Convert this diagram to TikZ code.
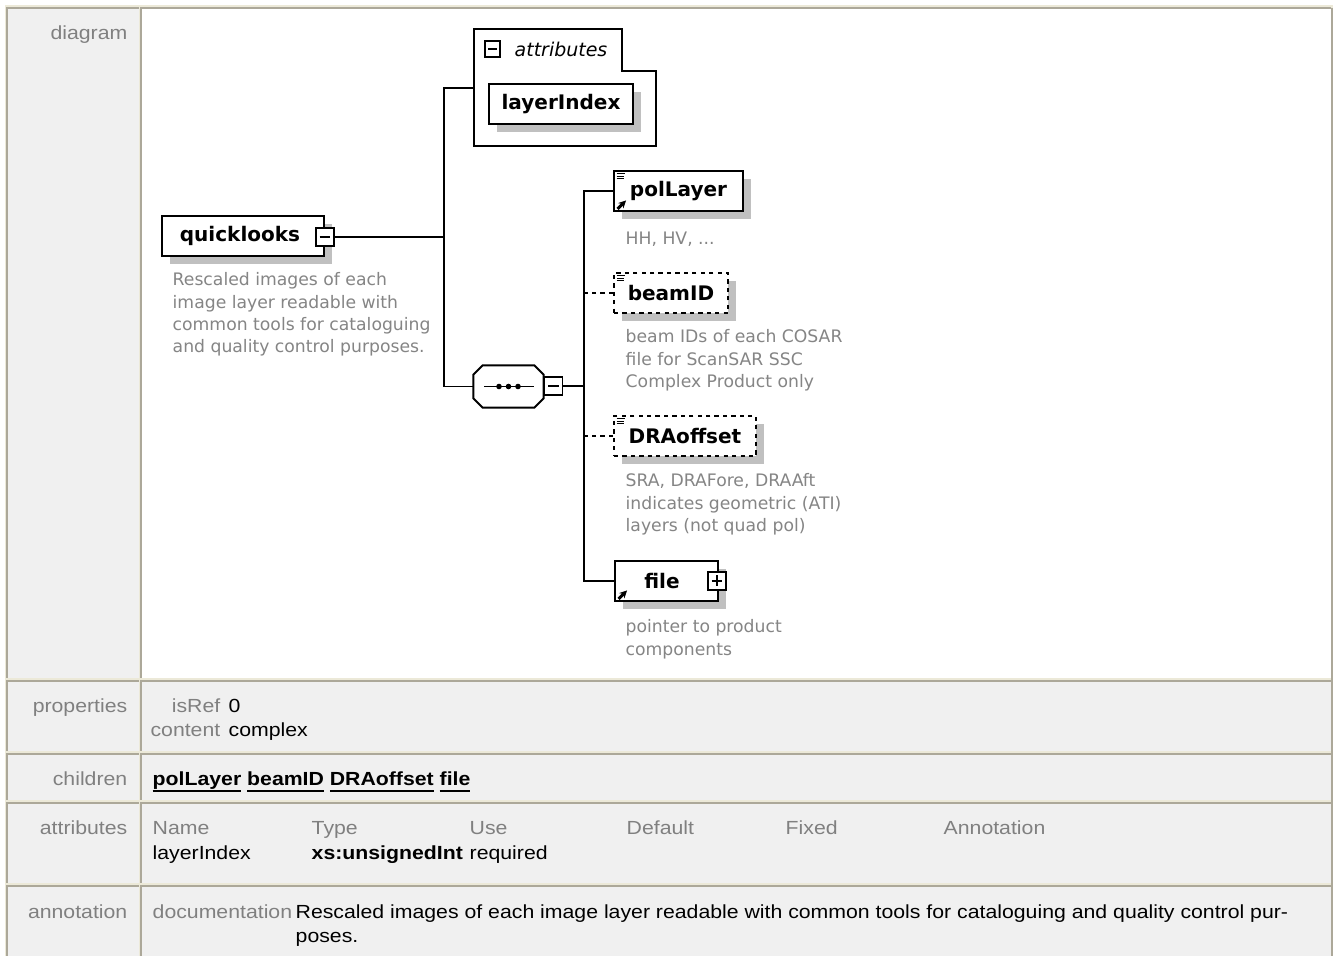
\documentclass[tikz,border=0pt]{standalone}
\usepackage{fontspec}
\setmainfont{Liberation Sans}[FakeStretch=1.12]
\newfontfamily\xsdfont{DejaVu Sans}
\usepackage{xcolor}
\usetikzlibrary{arrows.meta,positioning,shadows}
\definecolor{tandark}{HTML}{ACA899}
\definecolor{tanlight}{HTML}{ECE9D8}
\definecolor{cellgray}{HTML}{F0F0F0}
\definecolor{labelgray}{HTML}{808080}
\definecolor{descgray}{HTML}{858585}
\definecolor{shadowc}{HTML}{C0C0C0}
% one table cell: x1 y1 x2 y2 fill
\newcommand{\tcell}[5]{%
  \fill[#5] (#1,#2) rectangle (#3,#4);
  \draw[tandark,line width=0.55pt] (#1,#4) -- (#1,#2) -- (#3,#2);}
% octagon outline round a node: node name
\newcommand{\octpath}[1]{%
  ([xshift=0.095cm]#1.north west) -- ([xshift=-0.095cm]#1.north east)
  -- ([yshift=-0.095cm]#1.north east) -- ([yshift=0.095cm]#1.south east)
  -- ([xshift=-0.095cm]#1.south east) -- ([xshift=0.095cm]#1.south west)
  -- ([yshift=0.095cm]#1.south west) -- ([yshift=-0.095cm]#1.north west) -- cycle}
\newcommand{\childlink}[1]{\textbf{\underline{\smash{#1}}}}

\begin{document}
\begin{tikzpicture}[
  tabtxt/.style={font=\fontsize{5.4}{6.8}\selectfont,inner sep=0pt},
  lbl/.style={tabtxt,text=labelgray,anchor=base east},
  val/.style={tabtxt,anchor=base west},
  elem/.style={draw,line width=0.55pt,fill=white,minimum height=0.40cm,inner sep=0pt,
               font=\xsdfont\bfseries\fontsize{5.7}{6.8}\selectfont,
               general shadow={fill=shadowc,shadow xshift=0.08cm,shadow yshift=-0.08cm}},
  optelem/.style={elem,dash pattern=on 1.2pt off 1.2pt},
  desc/.style={font=\xsdfont\fontsize{4.9}{6.35}\selectfont,text=descgray,
               align=left,anchor=north west,inner sep=0pt},
  minusbox/.style={draw,line width=0.5pt,fill=white,minimum size=0.18cm,inner sep=0pt,
               path picture={\draw[line width=0.5pt]
                 ([xshift=0.035cm]path picture bounding box.west) --
                 ([xshift=-0.035cm]path picture bounding box.east);}},
  plusbox/.style={draw,line width=0.5pt,fill=white,minimum size=0.18cm,inner sep=0pt,
               path picture={\draw[line width=0.5pt]
                 ([xshift=0.035cm]path picture bounding box.west) --
                 ([xshift=-0.035cm]path picture bounding box.east)
                 ([yshift=-0.035cm]path picture bounding box.north) --
                 ([yshift=0.035cm]path picture bounding box.south);}},
  conn/.style={line width=0.55pt},
]
\useasboundingbox (0,0) rectangle (13.38,-9.56);

% table frame
\fill[tanlight] (0.05,-0.05) rectangle (13.33,-9.70);
\tcell{0.07}{-0.08}{1.39}{-6.78}{cellgray}
\tcell{1.41}{-0.08}{13.31}{-6.78}{white}
\tcell{0.07}{-6.81}{1.39}{-7.51}{cellgray}
\tcell{1.41}{-6.81}{13.31}{-7.51}{cellgray}
\tcell{0.07}{-7.54}{1.39}{-8.00}{cellgray}
\tcell{1.41}{-7.54}{13.31}{-8.00}{cellgray}
\tcell{0.07}{-8.03}{1.39}{-8.83}{cellgray}
\tcell{1.41}{-8.03}{13.31}{-8.83}{cellgray}
\tcell{0.07}{-8.86}{1.39}{-9.70}{cellgray}
\tcell{1.41}{-8.86}{13.31}{-9.70}{cellgray}
\draw[tandark,line width=0.55pt] (13.32,-0.08) -- (13.32,-9.70);

% row labels
\node[lbl] (ldiag) at (1.28,-0.40) {diagram};
\node[lbl] (lprop) at (1.28,-7.13) {properties};
\node[lbl] (lchild) at (1.28,-7.86) {children};
\node[lbl] (lattr) at (1.28,-8.35) {attributes};
\node[lbl] (lanno) at (1.28,-9.19) {annotation};

% properties
\node[lbl] (isref) at (2.21,-7.13) {isRef};
\node[val,right=0.07cm of isref.base east,anchor=base west] (isrefv) {0};
\node[lbl] (cont) at (2.21,-7.37) {content};
\node[val,right=0.07cm of cont.base east,anchor=base west] (contv) {complex};

% children
\node[val] (chl) at (1.52,-7.86)
  {\childlink{polLayer} \childlink{beamID} \childlink{DRAoffset} \childlink{file}};

% attributes table
\node[val,text=labelgray] (hname) at (1.52,-8.35) {Name};
\node[val,text=labelgray] (htype) at (3.11,-8.35) {Type};
\node[val,text=labelgray] (huse) at (4.69,-8.35) {Use};
\node[val,text=labelgray] (hdef) at (6.26,-8.35) {Default};
\node[val,text=labelgray] (hfix) at (7.85,-8.35) {Fixed};
\node[val,text=labelgray] (hann) at (9.43,-8.35) {Annotation};
\node[val] (aname) at (1.52,-8.60) {layerIndex};
\node[val] (atype) at (3.11,-8.60) {\textbf{xs:unsignedInt}};
\node[val] (ause) at (4.69,-8.60) {required};

% annotation
\node[val,text=labelgray] (docl) at (1.52,-9.19) {documentation};
\node[val] (doc1) at (2.95,-9.19)
  {Rescaled images of each image layer readable with common tools for cataloguing and quality control pur-};
\node[val] (doc2) at (2.95,-9.43) {poses.};

% attribute group
\draw[conn,fill=white] (4.74,-0.29) -- (6.22,-0.29) -- (6.22,-0.71) -- (6.56,-0.71)
  -- (6.56,-1.46) -- (4.74,-1.46) -- cycle;
\node[minusbox,minimum size=0.155cm] (attminus) at (4.925,-0.49) {};
\node[anchor=west,inner sep=0pt,font=\xsdfont\itshape\fontsize{5.4}{6.5}\selectfont]
  (atttitle) at (5.14,-0.49) {attributes};
\node[elem,minimum width=1.44cm] (layerIndex) at (5.61,-1.04) {layerIndex};
\coordinate (attin) at (4.74,-0.88);

% root element
\node[elem,minimum width=1.62cm] (qlook) at (2.43,-2.36) {quicklooks\hspace*{0.06cm}};
\node[minusbox] (qlminus) at (3.25,-2.37) {};
\node[desc] (qldesc) at (1.72,-2.72)
  {Rescaled images of each\\image layer readable with\\common tools for cataloguing\\and quality control purposes.};

% sequence compositor
\node[minimum width=0.69cm,minimum height=0.41cm,inner sep=0pt] (seq) at (5.085,-3.865) {};
\fill[shadowc,xshift=0.08cm,yshift=-0.08cm] \octpath{seq};
\draw[conn,fill=white] \octpath{seq};
\draw[conn] ([xshift=0.11cm]seq.west) -- ([xshift=-0.10cm]seq.east);
\foreach \dx in {-0.095,0,0.095}
  \fill ([xshift=\dx cm]seq.center) circle[radius=0.028cm];
\node[minusbox] (seqminus) at (5.535,-3.86) {};

% children elements
\node[elem,minimum width=1.29cm] (polLayer) at (6.785,-1.91) {polLayer};
\node[optelem,minimum width=1.14cm] (beamID) at (6.71,-2.93) {beamID};
\node[optelem,minimum width=1.42cm] (DRAoffset) at (6.85,-4.36) {DRAoffset};
\node[elem,minimum width=1.03cm] (file) at (6.665,-5.81) {file\hspace*{0.09cm}};
\node[plusbox] (fileplus) at (7.17,-5.81) {};

% content icons and reference arrows
\foreach \el in {polLayer,beamID,DRAoffset}
  \foreach \k/\len in {0/0.085,1/0.075,2/0.075}
    \draw[line width=0.3pt] ([shift={(0.035,-0.035-0.027*\k)}]\el.north west) -- ++(\len,0);
\foreach \el in {polLayer,file}
  \draw[line width=0.9pt,-{Stealth[length=0.075cm,width=0.075cm]}]
    ([shift={(0.045,0.03)}]\el.south west) -- ++(0.085,0.085);

\node[desc] (poldesc) at (6.25,-2.31) {HH, HV, ...};
\node[desc] (beamdesc) at (6.25,-3.29)
  {beam IDs of each COSAR\\file for ScanSAR SSC\\Complex Product only};
\node[desc] (dradesc) at (6.25,-4.73)
  {SRA, DRAFore, DRAAft\\indicates geometric (ATI)\\layers (not quad pol)};
\node[desc] (filedesc) at (6.25,-6.19) {pointer to product\\components};

% connectors
\coordinate (jq) at (4.44,-2.37);
\coordinate (cbus) at (5.84,-3.86);
\draw[conn] (qlminus) -- (jq);
\draw[conn] (attin) -| (jq) |- (seq.west);
\draw[conn] (seqminus) -- (cbus);
\draw[conn] (polLayer.west) -| (cbus) |- (file.west);
\draw[conn,dash pattern=on 1.2pt off 1.2pt] (beamID.west) -- (beamID.west -| cbus);
\draw[conn,dash pattern=on 1.2pt off 1.2pt] (DRAoffset.west) -- (DRAoffset.west -| cbus);
\end{tikzpicture}
\end{document}
